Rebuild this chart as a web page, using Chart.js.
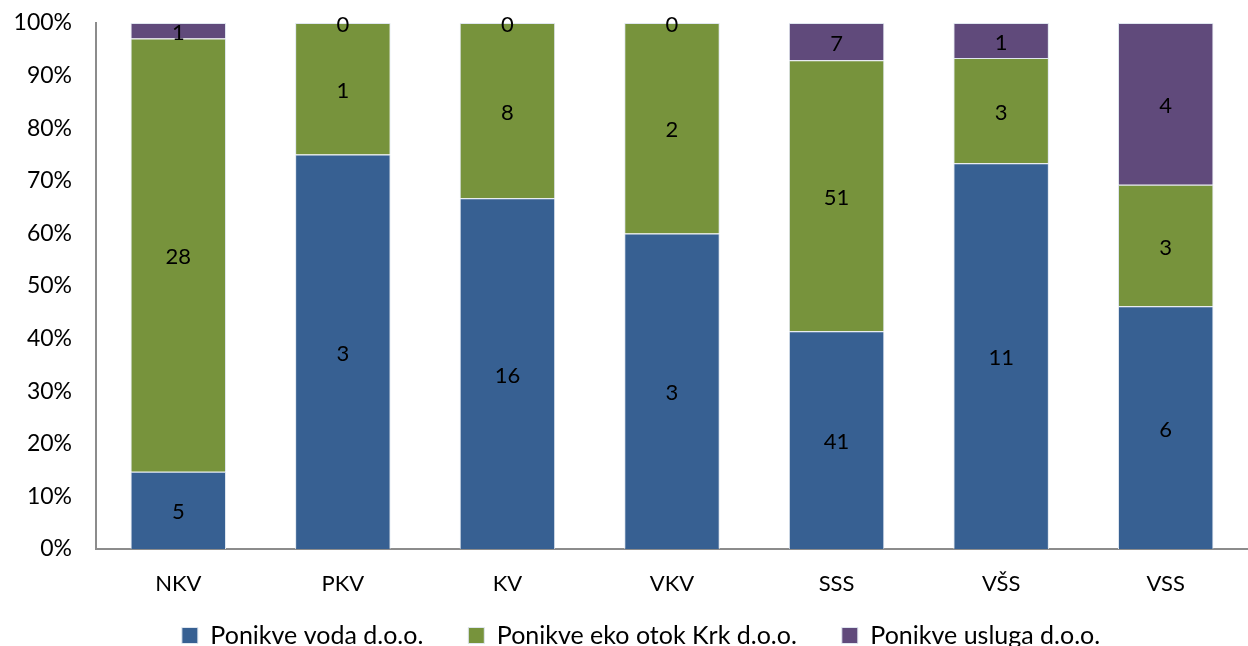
<!DOCTYPE html>
<html>
<head>
<meta charset="utf-8">
<script src="https://cdn.jsdelivr.net/npm/chart.js@4"></script>
<style>
  html, body { margin: 0; padding: 0; background: #fff; overflow: hidden; }
  #wrap { width: 1248px; height: 658px; }
</style>
</head>
<body>
<div id="wrap"><canvas id="chartCanvas" width="1248" height="658"></canvas></div>
<script>
// categories and counts
var categories = ['NKV', 'PKV', 'KV', 'VKV', 'SSS', 'VŠS', 'VSS'];
var vodaCounts = [5, 3, 16, 3, 41, 11, 6];
var ekoCounts = [28, 1, 8, 2, 51, 3, 3];
var uslugaCounts = [1, 0, 0, 0, 7, 1, 4];
var yTicks = [0, 10, 20, 30, 40, 50, 60, 70, 80, 90, 100];

var FONT = 'Lato, "Open Sans", sans-serif';

// turn counts into shares of each category (100% stacked)
var totals = categories.map(function(c, i) {
    return vodaCounts[i] + ekoCounts[i] + uslugaCounts[i];
});
function toPercent(arr) {
    return arr.map(function(v, i) { return v / totals[i] * 100; });
}

// write the raw count in the middle of every segment
var countLabels = {
    id: 'countLabels',
    afterDatasetsDraw: function(chart) {
        var c = chart.ctx;
        c.save();
        c.font = '22px ' + FONT;
        c.fillStyle = '#000';
        c.textAlign = 'center';
        c.textBaseline = 'middle';
        chart.data.datasets.forEach(function(ds, di) {
            var meta = chart.getDatasetMeta(di);
            meta.data.forEach(function(bar, i) {
                var y = (bar.y + bar.base) / 2;
                c.fillText(String(ds.counts[i]), bar.x, y + 2);
            });
        });
        c.restore();
    }
};

// nudge the legend a little to the right, like the original
var legendShift = {
    id: 'legendShift',
    afterLayout: function(chart) {
        if (chart.legend) chart.legend.left += 34;
    }
};

var ctx = document.getElementById('chartCanvas');
var myChart = new Chart(ctx, {
    type: 'bar',
    data: {
        labels: categories,
        datasets: [{
            label: 'Ponikve voda d.o.o.',
            data: toPercent(vodaCounts),
            counts: vodaCounts,
            backgroundColor: '#376092',
            borderColor: '#dfe6ef',
            borderWidth: 1
        },
        {
            label: 'Ponikve eko otok Krk d.o.o.',
            data: toPercent(ekoCounts),
            counts: ekoCounts,
            backgroundColor: '#77933c',
            borderColor: '#dfe6ef',
            borderWidth: 1
        },
        {
            label: 'Ponikve usluga d.o.o.',
            data: toPercent(uslugaCounts),
            counts: uslugaCounts,
            backgroundColor: '#604a7b',
            borderColor: '#dfe6ef',
            borderWidth: 1
        }]
    },
    options: {
        responsive: false,
        animation: false,
        layout: { padding: { top: 23, right: 0, left: 0, bottom: 0 } },
        datasets: {
            bar: { categoryPercentage: 1, barPercentage: 0.58 }
        },
        scales: {
            x: {
                stacked: true,
                grid: { display: false, drawTicks: false },
                border: { color: '#8c8c8c', width: 2 },
                ticks: { color: '#000', font: { family: FONT, size: 22 }, padding: 22 },
                afterFit: function(scale) { scale.height = 61; }
            },
            y: {
                stacked: true,
                min: 0,
                max: 100,
                grid: { display: false, drawTicks: false },
                border: { color: '#8c8c8c', width: 2 },
                afterBuildTicks: function(scale) {
                    scale.ticks = yTicks.map(function(v) { return { value: v }; });
                },
                ticks: {
                    color: '#000',
                    font: { family: FONT, size: 23 },
                    padding: 24,
                    callback: function(v) { return v + '%'; }
                },
                afterFit: function(scale) {
                    scale.width = 96;
                    scale.paddingTop = 0;
                    scale.paddingBottom = 0;
                }
            }
        },
        plugins: {
            legend: {
                display: true,
                position: 'bottom',
                labels: {
                    color: '#000',
                    font: { family: FONT, size: 25 },
                    boxWidth: 16,
                    boxHeight: 16,
                    padding: 13,
                    useBorderRadius: false,
                    generateLabels: function(chart) {
                        var items = Chart.defaults.plugins.legend.labels.generateLabels(chart);
                        items.forEach(function(it, i) {
                            if (i < items.length - 1) it.text = it.text + '     ';
                        });
                        return items;
                    }
                }
            },
            tooltip: { enabled: false }
        }
    },
    plugins: [countLabels, legendShift]
});
</script>
</body>
</html>
